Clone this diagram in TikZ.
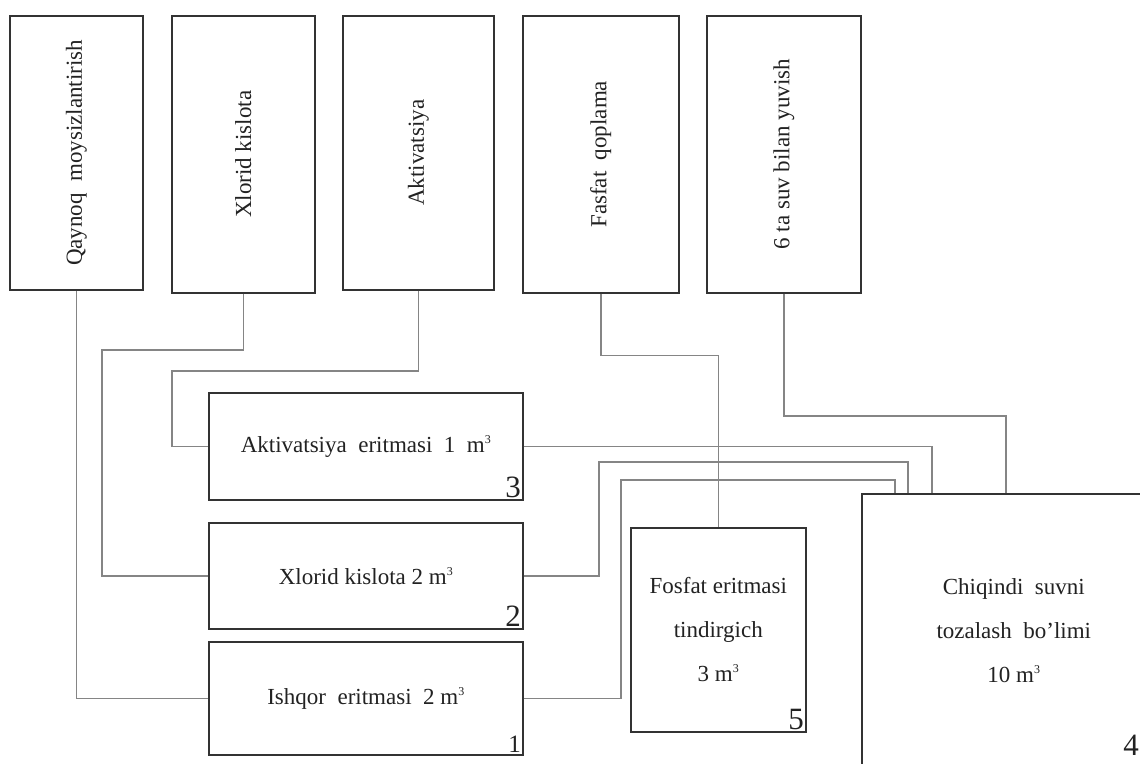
\documentclass[tikz,border=0pt]{standalone}
\usepackage{fontspec}
\setmainfont{Liberation Serif}
\definecolor{boxc}{HTML}{333333}
\definecolor{linec}{HTML}{858585}
\definecolor{txt}{HTML}{222222}
\newcommand{\cubic}{\raisebox{0.85ex}{\fontsize{12}{12}\selectfont 3}}
\tikzset{
  box/.style={draw=boxc, line width=1.6pt, inner sep=0pt, anchor=north west,
    font=\fontsize{23}{44}\selectfont, align=center, text=txt},
  conn/.style={draw=linec, line width=1.6pt},
  num/.style={font=\fontsize{31}{31}\selectfont, inner sep=2.5pt, anchor=south east, text=txt},
  smallnum/.style={font=\fontsize{25}{25}\selectfont, inner sep=2.5pt, anchor=south east, text=txt}
}
\begin{document}
\begin{tikzpicture}[x=1pt,y=-1pt]
\useasboundingbox (0,0) rectangle (1140,763);
\fill[white] (0,0) rectangle (1140,763);
\clip (0,0) rectangle (1140,763);
% top process boxes
\node[box, minimum width=133pt, minimum height=274pt] (A) at (9,15) {\rotatebox{90}{Qaynoq\ \ moysizlantirish}};
\node[box, minimum width=143pt, minimum height=277pt] (B) at (171,15) {\rotatebox{90}{Xlorid kislota}};
\node[box, minimum width=151pt, minimum height=274pt] (C) at (342,15) {\rotatebox{90}{Aktivatsiya}};
\node[box, minimum width=156pt, minimum height=277pt] (D) at (522,15) {\rotatebox{90}{Fasfat\ \ qoplama}};
\node[box, minimum width=154pt, minimum height=277pt] (E) at (706,15) {\rotatebox{90}{6 ta suv bilan yuvish}};
% tanks
\node[box, minimum width=314pt, minimum height=107pt] (t3) at (208,392) {Aktivatsiya\ \ eritmasi\ \ 1\ \ m\cubic};
\node[box, minimum width=314pt, minimum height=106pt] (t2) at (208,522) {Xlorid kislota 2 m\cubic};
\node[box, minimum width=314pt, minimum height=113pt] (t1) at (208,641) {Ishqor\ \ eritmasi\ \ 2 m\cubic};
\node[box, minimum width=175pt, minimum height=204pt] (t5) at (630,527) {Fosfat eritmasi\\ tindirgich\\ 3 m\cubic};
\node[box, minimum width=304pt, minimum height=274pt] (t4) at (861,493) {Chiqindi\ \ suvni\\ tozalash\ \ bo’limi\\ 10 m\cubic};
% numbers
\node[num] (n3) at (t3.south east) {3};
\node[num] (n2) at (t2.south east) {2};
\node[smallnum] (n1) at (t1.south east) {1};
\node[num] (n5) at (t5.south east) {5};
\node[num, anchor=center] (n4) at (1131,745) {4};
% connectors
\draw[conn] (A.south) |- (t1.west);
\draw[conn] (B.south) |- (102,350) |- (t2.west);
\draw[conn] (C.south) |- (172,371) |- (t3.west);
\draw[conn] (D.south) -- ++(0,62) -| (t5.north);
\draw[conn] (E.south) |- (1006,416) -- ([xshift=145pt]t4.north west);
\draw[conn] (t3.east) -| ([xshift=71pt]t4.north west);
\draw[conn] (t2.east) -| (599,462) -| ([xshift=47pt]t4.north west);
\draw[conn] (t1.east) -| (621,480) -| ([xshift=34pt]t4.north west);
\end{tikzpicture}
\end{document}
